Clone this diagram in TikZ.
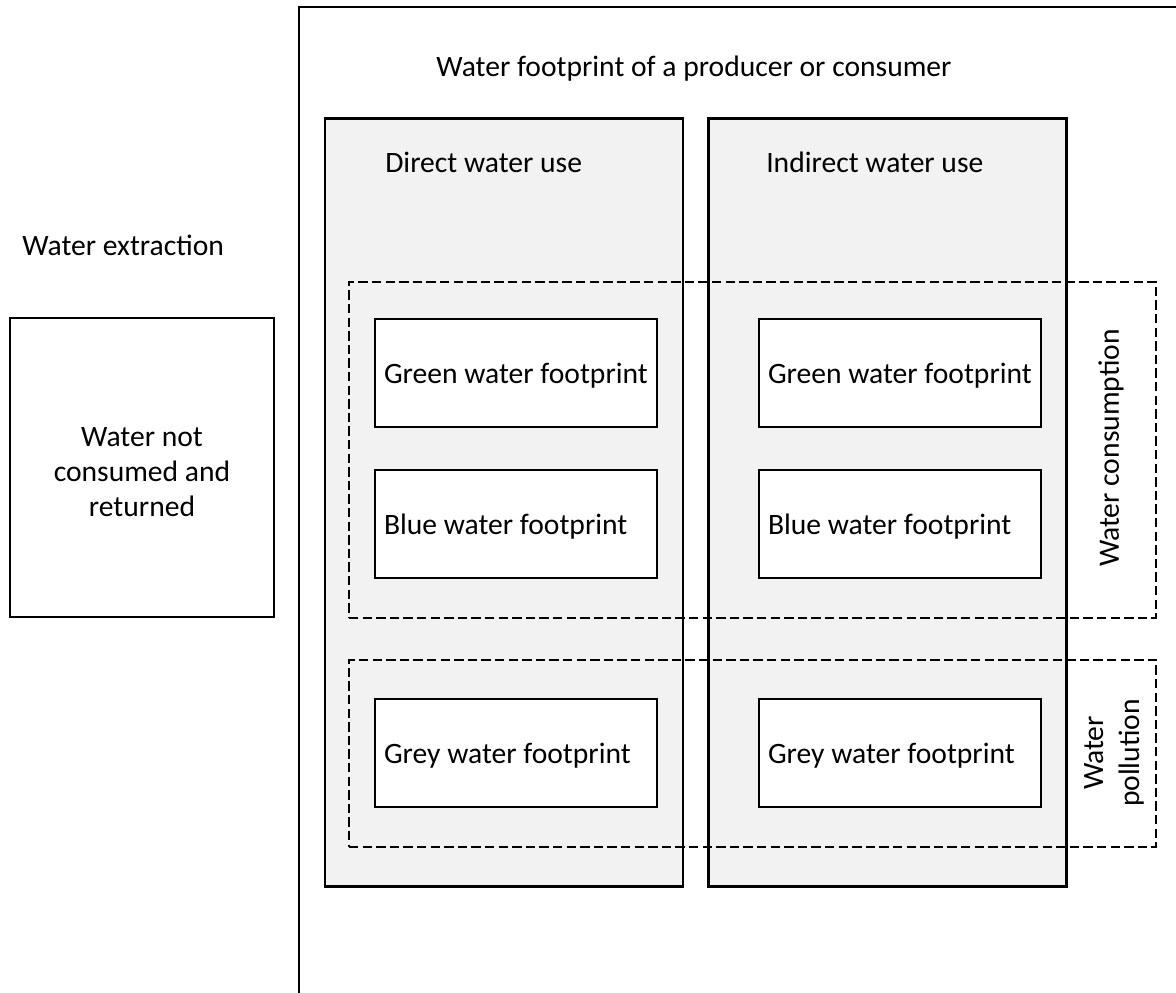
\documentclass[tikz,border=0pt]{standalone}
\usepackage{fontspec}
\setmainfont{Carlito}
\definecolor{colgray}{HTML}{F2F2F2}
\begin{document}
\begin{tikzpicture}[x=0.75pt,y=-0.75pt,
  frameline/.style={line width=2pt},
  col/.style={draw, line width=2pt, fill=colgray, inner sep=0pt, minimum width=358*0.75pt, minimum height=768*0.75pt},
  fbox/.style={draw, line width=1.9pt, fill=white, inner sep=0pt, minimum width=282*0.75pt, minimum height=108*0.75pt},
  grp/.style={draw, line width=1.9pt, dash pattern=on 7pt off 3.2pt, inner sep=0pt, minimum width=807*0.75pt},
  lbl/.style={font=\fontsize{22.2}{26.25}\selectfont, inner sep=0pt},
  sidebox/.style={draw, line width=1.9pt, fill=white, inner sep=0pt, minimum width=264*0.75pt, minimum height=299*0.75pt}
]
\useasboundingbox (0,0) rectangle (1176,992);
% outer frame
\coordinate (fb) at (299,993);
\coordinate (ft) at (299,7);
\coordinate (fr) at (1177,7);
\draw[frameline] (fb) -- (ft) -- (fr);
\node[lbl] (title) at (694,69) {Water footprint of a producer or consumer};
% left box
\node[lbl, anchor=west] (extr) at (22,245) {Water extraction};
\node[sidebox] (ret) at (142,467.5) {};
\node[lbl, align=center] (rettxt) at (142,472) {Water not\\consumed and\\returned};
% columns
\node[col] (direct) at (504,502.5) {};
\node[col] (indirect) at (887.5,502.5) {};
\node[lbl, anchor=west] (dtxt) at (385,162) {Direct water use};
\node[lbl, anchor=west] (itxt) at (766,162) {Indirect water use};
% inner boxes
\node[fbox] (g1) at (516,373) {};
\node[fbox] (b1) at (516,524) {};
\node[fbox] (y1) at (516,753) {};
\node[fbox] (g2) at (900,373) {};
\node[fbox] (b2) at (900,524) {};
\node[fbox] (y2) at (900,753) {};
\foreach \n/\t in {g1/Green water footprint, b1/Blue water footprint, y1/Grey water footprint,
                   g2/Green water footprint, b2/Blue water footprint, y2/Grey water footprint}{
  \node[lbl, anchor=west] (\n t) at ([xshift=7.5pt,yshift=-2pt]\n.west) {\t};
}
% dashed groups
\node[grp, minimum height=336*0.75pt] (cons) at (752.5,450) {};
\node[grp, minimum height=187*0.75pt] (poll) at (752.5,753.5) {};
\node[lbl, rotate=90] (constxt) at (1111,448) {Water consumption};
\node[lbl, rotate=90, align=center, font=\fontsize{22.2}{27}\selectfont] (polltxt) at (1114,753) {Water\\pollution};
\end{tikzpicture}
\end{document}
